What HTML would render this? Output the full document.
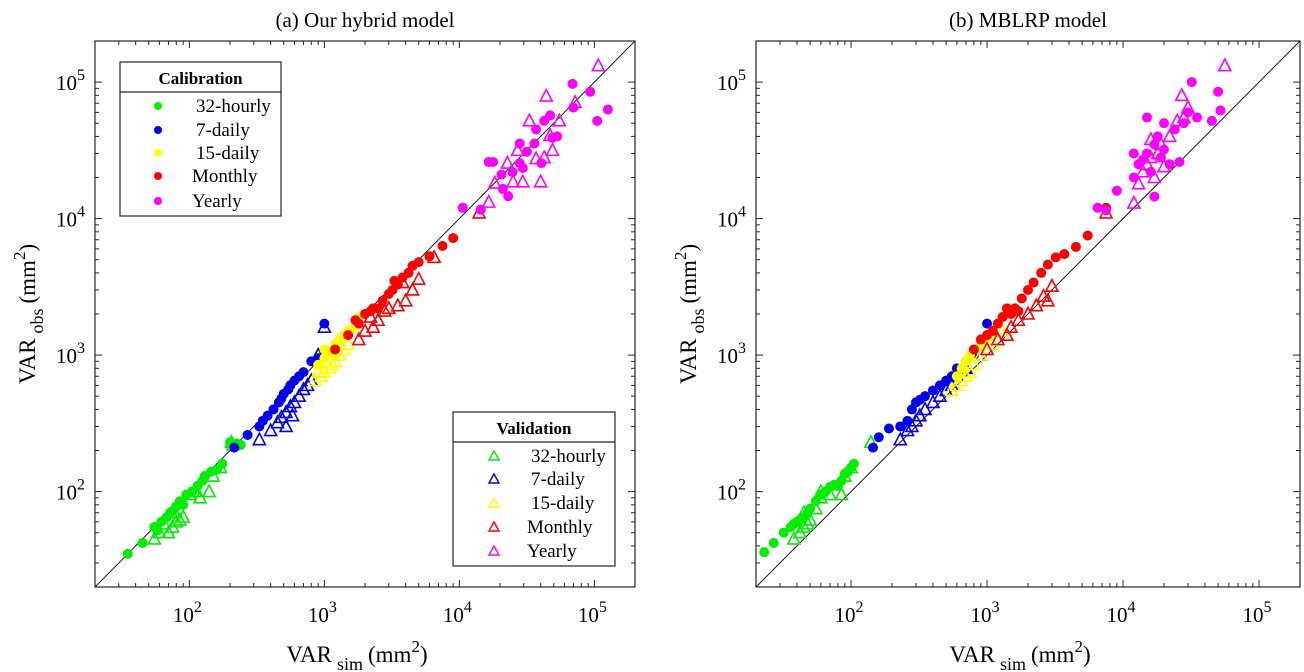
<!DOCTYPE html>
<html><head><meta charset="utf-8"><style>
html,body{margin:0;padding:0;background:#fff;}
svg{display:block;font-family:"Liberation Serif",serif;}
</style></head><body>
<svg id="fig" width="1304" height="672" viewBox="0 0 1304 672"></svg>
<script>
// ---- Panel (a) data: [sim, obs] in mm^2 ----
const aCal32 = [[35,35],[45,42],[55,55],[58,52],[62,60],[68,65],[72,70],[75,72],[80,78],[85,85],[90,80],[95,95],[105,100],[115,110],[125,120],[130,130],[145,140],[160,145],[175,160],[200,230],[240,220],[225,225]];
const aVal32 = [[55,45],[60,50],[70,50],[75,55],[80,60],[85,62],[90,65],[100,95],[110,100],[120,90],[140,100],[150,130],[170,150],[205,230],[210,220],[65,58],[78,70]];
const aCal7 = [[215,210],[270,260],[330,300],[350,330],[380,360],[420,400],[460,450],[480,480],[500,520],[540,560],[560,600],[600,650],[650,700],[700,750],[800,900],[1000,1700],[900,950]];
const aVal7 = [[330,240],[400,280],[450,320],[480,350],[520,380],[560,420],[600,450],[650,500],[700,560],[750,600],[800,650],[520,300],[580,360],[900,1000],[1000,1600]];
const aCal15 = [[900,850],[1000,950],[1100,1050],[1200,1200],[1300,1300],[1400,1400],[1500,1500],[1600,1550],[1700,1650],[1800,1900],[1000,1100],[1200,1000]];
const aVal15 = [[850,650],[950,700],[1000,750],[1100,800],[1150,850],[1200,900],[1300,1000],[1400,1100],[1500,1200],[1000,900],[900,760]];
const aCalM = [[1200,1100],[1500,1400],[1700,1800],[1800,1700],[2000,2000],[2200,2100],[2500,2200],[2700,2500],[3000,2800],[3200,3000],[3500,3300],[3800,3700],[4200,4000],[4500,4500],[5000,4800],[6000,5300],[7500,6300],[9000,7200],[2300,2200],[3300,3500]];
const aValM = [[1800,1300],[2000,1500],[2300,1600],[2500,1800],[2800,2100],[3000,2200],[3500,2300],[4000,2500],[4500,3000],[5000,3600],[6500,5200],[14000,11000],[2200,1900],[3800,3400]];
const aCalY = [[10600,12000],[14400,11600],[23000,14600],[21000,16500],[16500,26000],[17800,26000],[20500,21000],[24800,21900],[28000,25500],[29500,23500],[28000,35500],[31600,30900],[36000,35500],[37000,45000],[42500,52000],[47000,57000],[49000,39000],[53000,40000],[40500,25500],[69000,97000],[93000,85000],[70000,65000],[105000,52000],[126000,63000]];
const aValY = [[107000,132000],[44000,79000],[72000,71000],[55000,52000],[33000,52000],[49000,31600],[37000,27500],[42500,28000],[27000,31600],[22700,25500],[29500,18600],[25000,18600],[40000,18600],[18300,18200],[16500,13200],[47000,40700]];
// ---- Panel (b) data ----
const bCal32 = [[23,36],[27,42],[32,50],[36,55],[38,58],[40,60],[42,62],[45,65],[48,70],[50,75],[55,85],[60,95],[65,100],[70,108],[75,112],[85,120],[90,135],[100,150],[105,160],[80,110],[95,140]];
const bVal32 = [[38,45],[42,50],[45,55],[48,58],[50,62],[55,75],[60,90],[70,95],[85,95],[90,130],[100,150],[140,230],[45,70],[60,100]];
const bCal7 = [[145,210],[160,250],[190,290],[230,300],[260,330],[280,400],[300,450],[320,470],[350,500],[400,550],[450,600],[500,650],[550,700],[600,800],[700,900],[800,1000],[1000,1700]];
const bVal7 = [[230,240],[260,280],[280,300],[300,330],[320,360],[350,400],[400,450],[450,500],[500,550],[550,600],[600,700],[700,800],[900,1000]];
const bCal15 = [[600,700],[650,800],[700,900],[750,1000],[800,1100],[900,1200],[1000,1350],[1100,1500],[1200,1700],[1300,1900],[1400,2000]];
const bVal15 = [[550,550],[600,600],[650,650],[700,700],[750,750],[800,850],[900,1000],[1000,1100],[1100,1200],[1300,1500]];
const bCalM = [[800,1100],[900,1300],[1000,1400],[1100,1500],[1200,1700],[1300,1900],[1500,2000],[1600,2200],[1800,2600],[2000,3000],[2200,3400],[2500,4000],[2800,4600],[3200,5200],[3700,5500],[4500,6200],[5500,7500],[7500,12000],[1400,2200],[1700,2100]];
const bValM = [[1000,1100],[1200,1300],[1400,1400],[1500,1600],[1700,1800],[2000,2000],[2300,2300],[2600,2700],[3000,3200],[2800,2500],[7500,11000]];
const bCalY = [[6500,12000],[7500,11500],[9000,16000],[12000,20000],[13000,25000],[14000,27000],[15000,30000],[16000,22000],[17000,35000],[18000,40000],[19000,28000],[20000,32000],[22000,25000],[24000,45000],[26000,26000],[28000,50000],[30000,60000],[32000,100000],[35000,55000],[45000,52000],[50000,85000],[52000,62000],[15000,55000],[17000,14500],[12000,30000],[20000,50000]];
const bValY = [[12000,13000],[13000,18000],[14000,22000],[15000,25000],[16000,28000],[17000,20000],[18000,30000],[19000,35000],[20000,24000],[22000,40000],[25000,52000],[27000,80000],[28000,55000],[30000,65000],[56000,132000],[16000,38000]];
const tickExps = [2,3,4,5];
const legendLabels = ["32-hourly","7-daily","15-daily","Monthly","Yearly"];
const colors = ["#00ee00","#0000ee","#ffff00","#ff0000","#ff00ff"];

const NS="http://www.w3.org/2000/svg";
const svg=document.getElementById('fig');
function mk(tag,attrs,parent){const e=document.createElementNS(NS,tag);for(const k in attrs)e.setAttribute(k,attrs[k]);(parent||svg).appendChild(e);return e;}
const LMIN=Math.log10(20), LMAX=Math.log10(200000);

function panel(x0,x1,y0,y1,title,cal,val,prefix){
  const g=mk('g',{});
  
  
  const sx=v=>x0+(Math.log10(v)-LMIN)/(LMAX-LMIN)*(x1-x0);
  const sy=v=>y1-(Math.log10(v)-LMIN)/(LMAX-LMIN)*(y1-y0);
  const cp=mk('clipPath',{id:prefix+'clip'},g);
  mk('rect',{x:x0,y:y0,width:x1-x0,height:y1-y0},cp);
  const d=mk('line',{x1:sx(20),y1:sy(20),x2:sx(200000),y2:sy(200000),stroke:'#000','stroke-width':0.9,'clip-path':'url(#'+prefix+'clip)'},g);
  
  
  const pts=mk('g',{'clip-path':'url(#'+prefix+'clip)'},g);
  
  
  for(let s=0;s<5;s++){
    cal[s].forEach(p=>{
      const c=mk('circle',{cx:sx(p[0]),cy:sy(p[1]),r:5,fill:colors[s]},pts);
      
      
    });
    val[s].forEach(p=>{
      const cx=sx(p[0]),cy=sy(p[1]);
      const t=mk('polygon',{points:`${cx-6},${cy+5} ${cx+6},${cy+5} ${cx},${cy-6.5}`,fill:'none',stroke:colors[s],'stroke-width':1.6},pts);
      
      
    });
  }
  const fr=mk('rect',{x:x0,y:y0,width:x1-x0,height:y1-y0,fill:'none',stroke:'#262626','stroke-width':1.2},g);
  
  
  for(let e=1;e<=5;e++){for(let m=1;m<=9;m++){
    const v=m*Math.pow(10,e); if(v<20||v>200000)continue;
    const L=m===1?7:4;
    const X=sx(v),Y=sy(v);
    mk('line',{x1:X,y1:y1,x2:X,y2:y1-L,stroke:'#262626','stroke-width':1},g);
    mk('line',{x1:X,y1:y0,x2:X,y2:y0+L,stroke:'#262626','stroke-width':1},g);
    mk('line',{x1:x0,y1:Y,x2:x0+L,y2:Y,stroke:'#262626','stroke-width':1},g);
    mk('line',{x1:x1,y1:Y,x2:x1-L,y2:Y,stroke:'#262626','stroke-width':1},g);
  }}
  tickExps.forEach(e=>{
    const v=Math.pow(10,e);
    const tx=mk('text',{x:sx(v)-2,y:622,'text-anchor':'middle','font-size':21},g);
    
    
    tx.innerHTML='10<tspan dy="-10" font-size="16">'+e+'</tspan>';
    const ty=mk('text',{x:x0-10,y:sy(v)+8,'text-anchor':'end','font-size':21},g);
    
    
    ty.innerHTML='10<tspan dy="-10" font-size="16">'+e+'</tspan>';
  });
  const cx=(x0+x1)/2;
  const tt=mk('text',{x:cx,y:27,'text-anchor':'middle','font-size':21},g);
  
  
  tt.textContent=title;
  const xl=mk('text',{x:cx-8,y:662,'text-anchor':'middle','font-size':23},g);
  
  
  xl.innerHTML='VAR<tspan dx="5" dy="8" font-size="18">sim</tspan><tspan dx="5" dy="-8">(mm</tspan><tspan dy="-10" font-size="17">2</tspan><tspan dy="10">)</tspan>';
  const yl=mk('text',{x:0,y:0,'text-anchor':'middle','font-size':23,transform:`translate(${x0-60},${(y0+y1)/2}) rotate(-90)`},g);
  
  
  yl.innerHTML='VAR<tspan dx="5" dy="8" font-size="18">obs</tspan><tspan dx="5" dy="-8">(mm</tspan><tspan dy="-10" font-size="17">2</tspan><tspan dy="10">)</tspan>';
}
panel(95,635,41,587,'(a) Our hybrid model',[aCal32,aCal7,aCal15,aCalM,aCalY],[aVal32,aVal7,aVal15,aValM,aValY],'a');
panel(756,1300,41,587,'(b) MBLRP model',[bCal32,bCal7,bCal15,bCalM,bCalY],[bVal32,bVal7,bVal15,bValM,bValY],'b');

function legend(x0,y0,x1,y1,sep,head,mx,tx,rows,tri,name){
  const g=mk('g',{});
  
  
  mk('rect',{x:x0,y:y0,width:x1-x0,height:y1-y0,fill:'#fff',stroke:'#262626','stroke-width':1.2},g);
  mk('line',{x1:x0,y1:sep,x2:x1,y2:sep,stroke:'#262626','stroke-width':1.2},g);
  const h=mk('text',{x:(x0+x1)/2,y:sep-8,'text-anchor':'middle','font-size':17,'font-weight':'bold'},g);
  
  
  h.textContent=head;
  legendLabels.forEach((lab,i)=>{
    const y=rows[i];
    if(tri){const m=mk('polygon',{points:`${mx-5},${y+4} ${mx+5},${y+4} ${mx},${y-5}`,fill:'none',stroke:colors[i],'stroke-width':1.4},g);
      }
    else{const m=mk('circle',{cx:mx,cy:y,r:4,fill:colors[i]},g);
      }
    const t=mk('text',{x:tx-(i>=3?4:0),y:y+6,'font-size':19},g);
    
    
    t.textContent=lab;
  });
}
legend(120,62,281,216,92,'Calibration',158,196,[106,130,153,176,201],false,'calibration-legend');
legend(453,412,615,566,442,'Validation',494,531,[456,479,503,527,551],true,'validation-legend');
</script>
</body></html>
